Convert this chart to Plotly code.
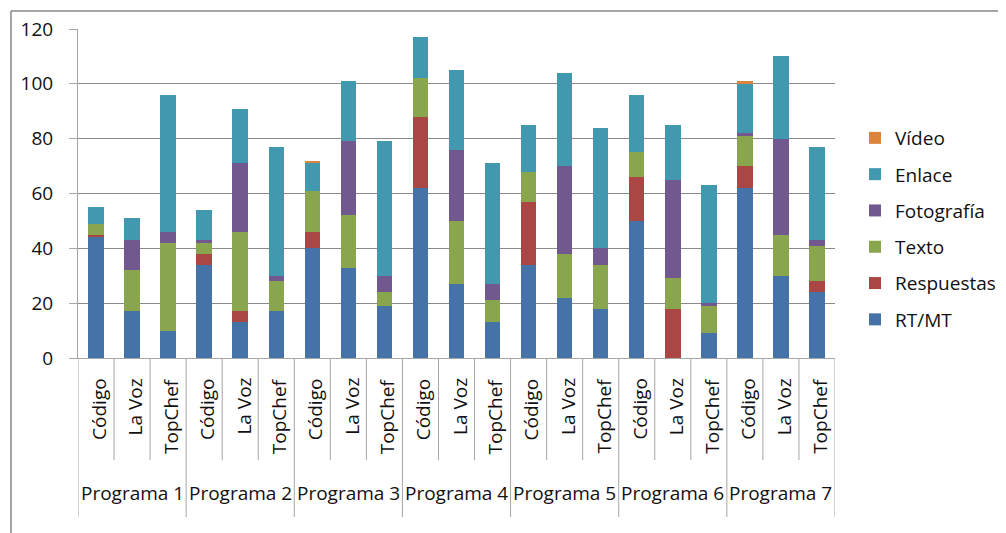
import plotly.graph_objects as go

programs = ["Programa 1", "Programa 2", "Programa 3", "Programa 4", "Programa 5", "Programa 6", "Programa 7"]
shows = ["Código", "La Voz", "TopChef"]

rt_mt = [44, 17, 10, 34, 13, 17, 40, 33, 19, 62, 27, 13, 34, 22, 18, 50, 0, 9, 62, 30, 24]
respuestas = [1, 0, 0, 4, 4, 0, 6, 0, 0, 26, 0, 0, 23, 0, 0, 16, 18, 0, 8, 0, 4]
texto = [4, 15, 32, 4, 29, 11, 15, 19, 5, 14, 23, 8, 11, 16, 16, 9, 11, 10, 11, 15, 13]
fotografia = [0, 11, 4, 1, 25, 2, 0, 27, 6, 0, 26, 6, 0, 32, 6, 0, 36, 1, 1, 35, 2]
enlace = [6, 8, 50, 11, 20, 47, 10, 22, 49, 15, 29, 44, 17, 34, 44, 21, 20, 43, 18, 30, 34]
video = [0, 0, 0, 0, 0, 0, 1, 0, 0, 0, 0, 0, 0, 0, 0, 0, 0, 0, 1, 0, 0]

series = [
    ("RT/MT", rt_mt, "#4572A7"),
    ("Respuestas", respuestas, "#AA4643"),
    ("Texto", texto, "#89A54E"),
    ("Fotografía", fotografia, "#71588F"),
    ("Enlace", enlace, "#4198AF"),
    ("Vídeo", video, "#DB843D"),
]

n_cat = len(programs) * len(shows)
xs = list(range(n_cat))
inner_labels = [s for p in programs for s in shows]

FONT = "Open Sans"
FS = 19
TXT = "#111111"
OFF = 8  # page body offset
W, H = 998, 525
ML, MR, MT, MB = 70, 171, 21, 175
PW = W - ML - MR
PH = H - MT - MB


def py(pix):
    return (H - MB - (pix - OFF)) / PH


def px(pix):
    return ((pix - OFF) - ML) / PW


fig = go.Figure()
for k, (name, vals, col) in enumerate(series):
    fig.add_trace(go.Bar(
        x=xs, y=vals, name=name, legendgroup=name,
        legendrank=len(series) - k,
        marker=dict(color=col, line=dict(width=0)),
        width=0.43,
    ))

shapes = []
annotations = []
grid_col = "#8a8a8a"
div_col = "#a6a6a6"

for i in range(n_cat + 1):
    is_group = (i % len(shows) == 0)
    shapes.append(dict(
        type="line", xref="x", yref="paper",
        x0=i - 0.5, x1=i - 0.5, y0=0, y1=py(517) if is_group else py(460),
        line=dict(color=div_col, width=1),
    ))

for i, lab in enumerate(inner_labels):
    annotations.append(dict(
        x=i + 0.08, y=py(376), xref="x", yref="paper",
        text=lab, showarrow=False, textangle=-90,
        xanchor="center", yanchor="top",
        font=dict(family=FONT, size=FS, color=TXT),
    ))

for g, p in enumerate(programs):
    annotations.append(dict(
        x=g * len(shows) + 1, y=py(493), xref="x", yref="paper",
        text=p, showarrow=False, xanchor="center", yanchor="middle",
        font=dict(family=FONT, size=FS, color=TXT),
    ))

# outer chart frame (only top and left edges fall inside the picture)
shapes.append(dict(type="line", xref="paper", yref="paper",
                   x0=px(11), x1=px(1006), y0=py(11), y1=py(11),
                   line=dict(color="#878787", width=1.5), layer="above"))
shapes.append(dict(type="line", xref="paper", yref="paper",
                   x0=px(11), x1=px(11), y0=py(11), y1=py(533),
                   line=dict(color="#878787", width=1.5), layer="above"))

fig.update_layout(
    width=W, height=H,
    margin=dict(l=ML, r=MR, t=MT, b=MB, pad=0, autoexpand=False),
    barmode="stack",
    plot_bgcolor="white", paper_bgcolor="white",
    font=dict(family=FONT, size=FS, color=TXT),
    xaxis=dict(
        range=[-0.5, n_cat - 0.5], showticklabels=False, showgrid=False,
        zeroline=False, showline=True, linecolor=div_col, linewidth=1,
        ticks="", automargin=False,
    ),
    yaxis=dict(
        range=[0, 120], dtick=20, showgrid=True, gridcolor=grid_col, gridwidth=1,
        zeroline=False, showline=True, linecolor=div_col, linewidth=1,
        ticks="outside", ticklen=8, tickcolor=div_col,
        ticklabelstandoff=12, automargin=False,
        tickfont=dict(family=FONT, size=FS, color=TXT),
    ),
    legend=dict(
        x=px(855), y=py(119), xanchor="left", yanchor="top",
        traceorder="grouped", tracegroupgap=8.6,
        font=dict(family=FONT, size=FS, color=TXT),
        bgcolor="rgba(0,0,0,0)",
    ),
    shapes=shapes,
    annotations=annotations,
)

fig.write_html("out.html")
